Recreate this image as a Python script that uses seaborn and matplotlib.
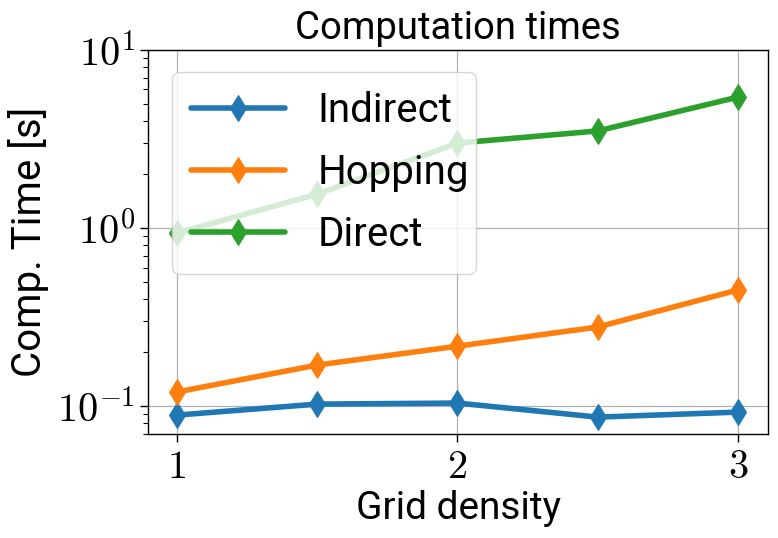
import numpy as np
import pandas as pd
import matplotlib
matplotlib.use("Agg")
import matplotlib.pyplot as plt
import matplotlib.ticker as mticker
import seaborn as sns

grid_density = [1.0, 1.5, 2.0, 2.5, 3.0]
indirect = [0.089, 0.1026, 0.104, 0.0867, 0.0925]
hopping = [0.120, 0.170, 0.217, 0.278, 0.449]
direct = [0.937, 1.55, 3.00, 3.51, 5.44]
methods = ["Indirect", "Hopping", "Direct"]
colors = ["#1f77b4", "#ff7f0e", "#2ca02c"]

sns.set_style("ticks", {"axes.grid": True, "grid.color": "#b0b0b0",
                        "axes.edgecolor": "black", "xtick.color": "black",
                        "ytick.color": "black", "text.color": "black",
                        "axes.labelcolor": "black"})
plt.rcParams["font.family"] = ["Roboto", "DejaVu Sans"]
plt.rcParams["mathtext.fontset"] = "cm"
plt.rcParams["text.color"] = "black"
plt.rcParams["axes.labelcolor"] = "black"

df = pd.DataFrame({
    "x": grid_density * 3,
    "y": indirect + hopping + direct,
    "method": [m for m in methods for _ in grid_density],
})

fig = plt.figure(figsize=(7.78, 5.38), dpi=100)
ax = fig.add_axes([148 / 778, 1 - 434 / 538, (768 - 148) / 778, (434 - 50) / 538])

for m, c in zip(methods, colors):
    sub = df[df["method"] == m]
    sns.lineplot(data=sub, x="x", y="y", ax=ax, color=c, label=m,
                 marker="d", markersize=13, linewidth=4,
                 markeredgecolor=c, markerfacecolor=c)

ax.set_yscale("log")
ax.set_ylim(0.0697, 10)
ax.set_xlim(0.897, 3.107)
ax.set_xticks([1, 2, 3])
ax.xaxis.set_major_formatter(mticker.FuncFormatter(lambda v, p: f"${v:g}$"))
ax.yaxis.set_major_formatter(mticker.FuncFormatter(
    lambda v, p: f"$10^{{{int(round(np.log10(v)))}}}$"))
ax.tick_params(axis="both", which="major", labelsize=29, length=6, width=1,
               labelcolor="black")
ax.tick_params(axis="y", which="minor", length=3.5, width=0.8)
ax.grid(True, which="major", color="#b0b0b0", linewidth=0.9)
ax.grid(False, which="minor")
for s in ax.spines.values():
    s.set_linewidth(1.0)
    s.set_color("black")

ax.set_title("Computation times", fontsize=27.5, color="black", pad=8)
ax.set_xlabel("Grid density", fontsize=28, color="black", labelpad=3)
ax.set_ylabel("Comp. Time [s]", fontsize=29, color="black", labelpad=6)

lfs = 29
lpx = lfs * 100 / 72
leg = ax.legend(loc="upper left", prop={"size": lfs},
                framealpha=0.8, handlelength=94 / lpx, borderpad=0.48,
                labelspacing=0.57, handletextpad=32 / lpx,
                borderaxespad=0,
                bbox_to_anchor=((172 - 148) / 620, (434 - 72) / 384,
                                (476 - 172) / 620, 0.0),
                mode="expand")
for t in leg.get_texts():
    t.set_color("black")

fig.savefig("out.png", dpi=100)
